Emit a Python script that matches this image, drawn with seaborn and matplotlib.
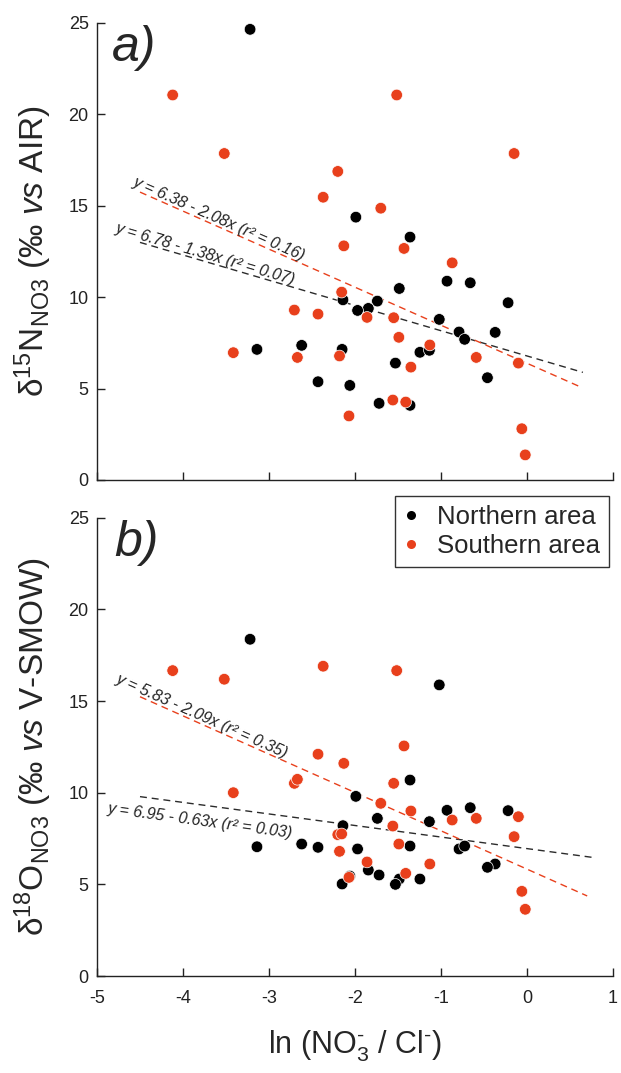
import numpy as np
import pandas as pd
import matplotlib
matplotlib.use("Agg")
import matplotlib.pyplot as plt
import seaborn as sns

# ln(NO3-/Cl-) and isotope values for each sampled well
north_ln = [-3.22, -1.99, -1.36, -0.93, -0.66, -1.485, -2.14, -0.22, -1.74,
            -1.845, -1.97, -1.02, -0.79, -0.37, -0.725, -1.245, -1.135, -3.14,
            -2.62, -2.15, -1.53, -2.43, -2.06, -0.46, -1.72, -1.36]
north_d15n = [24.64, 14.37, 13.28, 10.87, 10.78, 10.47, 9.85, 9.69, 9.78,
              9.38, 9.27, 8.78, 8.09, 8.07, 7.69, 6.98, 7.09, 7.14,
              7.36, 7.14, 6.39, 5.37, 5.17, 5.59, 4.19, 4.08]
north_d18o = [18.37, 9.80, 10.69, 9.04, 9.18, 5.29, 8.20, 9.02, 8.60,
              5.78, 6.93, 15.88, 6.93, 6.11, 7.09, 5.29, 8.42, 7.05,
              7.20, 5.02, 5.00, 7.02, 5.45, 5.93, 5.51, 7.09]

south_ln = [-4.12, -1.515, -3.52, -0.15, -2.20, -2.37, -1.70, -2.13, -1.43,
            -0.87, -2.155, -2.705, -2.43, -1.86, -1.55, -1.49, -1.13, -3.415,
            -2.67, -2.18, -0.59, -0.10, -1.35, -1.56, -1.41, -2.07, -0.06, -0.02]
south_d15n = [21.05, 21.05, 17.85, 17.85, 16.87, 15.46, 14.86, 12.80, 12.66,
              11.87, 10.27, 9.29, 9.07, 8.89, 8.87, 7.80, 7.38, 6.96,
              6.70, 6.78, 6.70, 6.39, 6.17, 4.37, 4.26, 3.50, 2.80, 1.37]
south_d18o = [16.66, 16.66, 16.19, 7.60, 7.71, 16.90, 9.42, 11.60, 12.55,
              8.51, 7.75, 10.51, 12.10, 6.22, 10.51, 7.20, 6.11, 10.00,
              10.73, 6.80, 8.60, 8.69, 9.00, 8.18, 5.60, 5.38, 4.62, 3.64]

areas = ["Northern area", "Southern area"]
area_colors = ["#000000", "#E8401C"]
line_colors = ["#2b2b2b", "#E8401C"]

# Least-squares fits (northern, southern): intercept, slope, r2, x-extent
fit_d15n_intercept = [6.78, 6.38]
fit_d15n_slope = [-1.38, -2.08]
fit_d15n_r2 = [0.07, 0.16]
fit_d15n_xmax = [0.65, 0.62]
fit_d15n_label_x = [-4.80, -4.60]

fit_d18o_intercept = [6.95, 5.83]
fit_d18o_slope = [-0.63, -2.09]
fit_d18o_r2 = [0.03, 0.35]
fit_d18o_xmax = [0.80, 0.70]
fit_d18o_label_x = [-4.85, -4.80]

fit_xmin = -4.5

x_ticks = [-5, -4, -3, -2, -1, 0, 1]
y_ticks = [0, 5, 10, 15, 20, 25]

df = pd.DataFrame({
    "ln": north_ln + south_ln,
    "d15n": north_d15n + south_d15n,
    "d18o": north_d18o + south_d18o,
    "area": [areas[0]] * len(north_ln) + [areas[1]] * len(south_ln),
})

sns.set_style("ticks")
plt.rcParams["font.family"] = ["Liberation Sans", "DejaVu Sans"]
plt.rcParams["mathtext.fontset"] = "custom"
plt.rcParams["mathtext.rm"] = "Liberation Sans"
plt.rcParams["mathtext.it"] = "Liberation Sans:italic"
plt.rcParams["mathtext.bf"] = "Liberation Sans:bold"
plt.rcParams["axes.unicode_minus"] = False

fig = plt.figure(figsize=(6.21, 10.73), dpi=100)
ax_a = fig.add_axes([0.1562, 0.5527, 0.8309, 0.4261])
ax_b = fig.add_axes([0.1562, 0.0904, 0.8309, 0.4271])

palette = dict(zip(areas, area_colors))


def draw_panel(ax, ycol, intercepts, slopes, r2s, xmaxs, label_xs, below, legend):
    ax.set_xlim(-5, 1)
    ax.set_ylim(0, 25)
    # regression lines first so the points sit on top
    for k in range(2):
        xs = np.array([fit_xmin, xmaxs[k]])
        ax.plot(xs, intercepts[k] + slopes[k] * xs, ls=(0, (5, 3.5)),
                lw=1.0, color=line_colors[k], zorder=1)
    sns.scatterplot(data=df, x="ln", y=ycol, hue="area", palette=palette,
                    hue_order=areas, s=70, edgecolor="white", linewidth=0.5,
                    ax=ax, legend=legend, zorder=3)
    for k in range(2):
        x0 = label_xs[k]
        y0 = intercepts[k] + slopes[k] * x0
        p1 = ax.transData.transform((fit_xmin, intercepts[k] + slopes[k] * fit_xmin))
        p2 = ax.transData.transform((xmaxs[k], intercepts[k] + slopes[k] * xmaxs[k]))
        ang = np.degrees(np.arctan2(p2[1] - p1[1], p2[0] - p1[0]))
        th = np.radians(ang)
        d = -6.0 if below[k] else 2.0
        txt = f"y = {intercepts[k]:.2f} - {abs(slopes[k]):.2f}x (r\u00b2 = {r2s[k]:.2f})"
        ax.annotate(txt, xy=(x0, y0), xytext=(-d * np.sin(th), d * np.cos(th)),
                    textcoords="offset points", rotation=ang,
                    rotation_mode="anchor", ha="left",
                    va="top" if below[k] else "baseline",
                    fontsize=11.5, style="italic", color="#222222", zorder=2)
    sns.despine(ax=ax)
    for s in ("left", "bottom"):
        ax.spines[s].set_linewidth(1.0)
        ax.spines[s].set_color("#222222")
    ax.set_xticks(x_ticks)
    ax.set_yticks(y_ticks)
    ax.tick_params(direction="in", length=6, width=1, labelsize=13,
                   colors="#222222", pad=6)
    ax.tick_params(axis="x", pad=10)


draw_panel(ax_a, "d15n", fit_d15n_intercept, fit_d15n_slope, fit_d15n_r2,
           fit_d15n_xmax, fit_d15n_label_x, [False, False], False)
draw_panel(ax_b, "d18o", fit_d18o_intercept, fit_d18o_slope, fit_d18o_r2,
           fit_d18o_xmax, fit_d18o_label_x, [True, False], True)

ax_a.tick_params(axis="x", labelbottom=False)
ax_a.set_xlabel("")

ax_a.set_ylabel(r"δ$^{15}$N$_{\mathrm{NO3}}$ (‰ $\mathit{vs}$ AIR)", fontsize=24)
ax_b.set_ylabel(r"δ$^{18}$O$_{\mathrm{NO3}}$ (‰ $\mathit{vs}$ V-SMOW)", fontsize=24)
for ax in (ax_a, ax_b):
    ax.yaxis.set_label_coords(-0.083, 0.5)
ax_b.set_xlabel(r"ln (NO$_3^{\text{-}}$ / Cl$^{\text{-}}$)", fontsize=22)
ax_b.xaxis.set_label_coords(0.5, -0.115)

ax_a.text(-4.83, 22.9, "a)", fontsize=36, style="italic", ha="left", va="baseline")
ax_b.text(-4.80, 22.9, "b)", fontsize=36, style="italic", ha="left", va="baseline")

handles, labels = ax_b.get_legend_handles_labels()
for h in handles:
    h.set_markersize(6.5)
    h.set_markeredgewidth(0)
leg = ax_b.legend(handles, labels, loc="upper right",
                  bbox_to_anchor=(0.9807, 0.5377), bbox_transform=fig.transFigure,
                  borderaxespad=0, fontsize=18.5, frameon=True, fancybox=False,
                  handlelength=0.6, handletextpad=0.7, labelspacing=0.2,
                  borderpad=0.35, markerscale=1.0)
leg.get_frame().set_edgecolor("#333333")
leg.get_frame().set_linewidth(1.0)
leg.get_frame().set_facecolor("white")
leg.get_frame().set_alpha(1.0)

fig.savefig("out.png", dpi=100, facecolor="white")
